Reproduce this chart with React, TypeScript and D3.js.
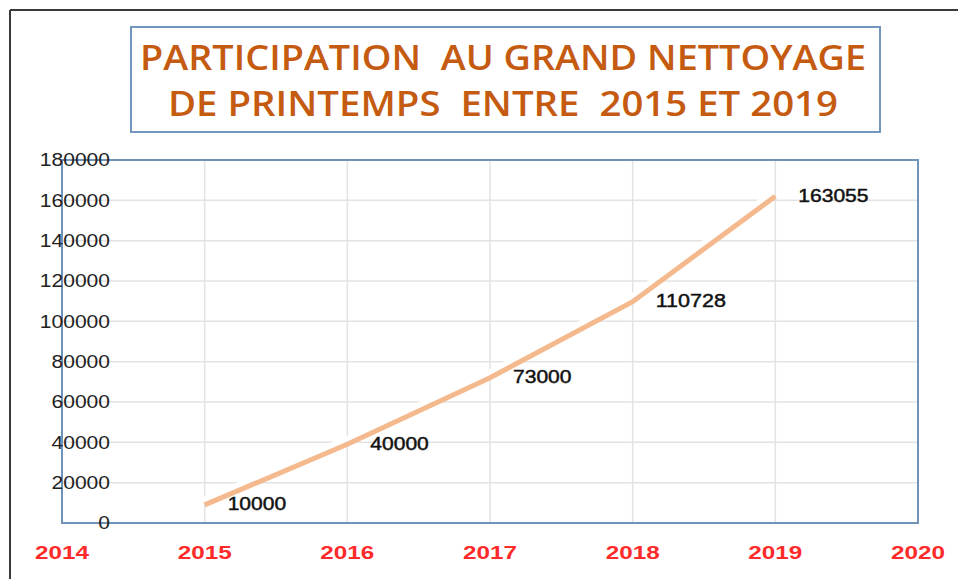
import React from "react";
import * as d3 from "d3";

const years = [2015, 2016, 2017, 2018, 2019];
const participants = [10000, 40000, 73000, 110728, 163055];
const xTickYears = [2014, 2015, 2016, 2017, 2018, 2019, 2020];
const yTicks = [0, 20000, 40000, 60000, 80000, 100000, 120000, 140000, 160000, 180000];
const titleLines = ["PARTICIPATION  AU GRAND NETTOYAGE", "DE PRINTEMPS  ENTRE  2015 ET 2019"];

export default function App() {
  const W = 958, H = 579;
  const left = 62, right = 918, top = 160, bottom = 523;
  const x = d3.scaleLinear().domain([2014, 2020]).range([left, right]);
  const y = d3.scaleLinear().domain([0, 180000]).range([bottom, top]);
  const pts: [number, number][] = years.map((yr, i) => [x(yr), y(participants[i])]);
  const line = d3.line<[number, number]>().x(d => d[0]).y(d => d[1]);
  const font = "'Liberation Sans', Arial, sans-serif";
  const titleFont = "'Open Sans', 'Liberation Sans', sans-serif";
  const digitW = (s: string) => s.length * 11.7;

  return (
    <svg width={W} height={H} style={{ position: "absolute", left: 0, top: 0, background: "#fff" }}>
      {/* outer frame */}
      <line x1={10} y1={10} x2={W} y2={10} stroke="#3a3a3a" strokeWidth={2} />
      <line x1={10} y1={10} x2={10} y2={H} stroke="#3a3a3a" strokeWidth={2} />

      {/* title box */}
      <rect x={131} y={27} width={749} height={105} fill="#fff" stroke="#7396bf" strokeWidth={2} />
      <text x={503} y={70} textAnchor="middle" fontFamily={titleFont} fontWeight={600} fontSize={35}
        fill="#c55a11" textLength={726} lengthAdjust="spacingAndGlyphs" style={{ whiteSpace: "pre" }}>{titleLines[0]}</text>
      <text x={503} y={116} textAnchor="middle" fontFamily={titleFont} fontWeight={600} fontSize={35}
        fill="#c55a11" textLength={670} lengthAdjust="spacingAndGlyphs" style={{ whiteSpace: "pre" }}>{titleLines[1]}</text>

      {/* gridlines */}
      {yTicks.map(t => (
        <line key={"h" + t} x1={left} x2={right} y1={y(t)} y2={y(t)} stroke="#e3e3e3" strokeWidth={1.5} />
      ))}
      {xTickYears.map(t => (
        <line key={"v" + t} x1={x(t)} x2={x(t)} y1={top} y2={bottom} stroke="#e3e3e3" strokeWidth={1.5} />
      ))}

      {/* plot border */}
      <rect x={left} y={top} width={right - left} height={bottom - top} fill="none" stroke="#6f93ba" strokeWidth={2} />

      {/* series line with white shadow */}
      <path d={line(pts.map(p => [p[0] - 2, p[1] - 3]) as [number, number][]) || ""} fill="none" stroke="#ffffff" strokeWidth={5} />
      <path d={line(pts.map(p => [p[0], p[1] + 2]) as [number, number][]) || ""} fill="none" stroke="#f5b98e" strokeWidth={5} strokeLinecap="butt" />

      {/* y tick labels */}
      {yTicks.map(t => (
        <text key={"yl" + t} x={110} y={y(t)} dy="0.36em" textAnchor="end" fontFamily={font} fontSize={18}
          fill="#222" textLength={digitW(String(t))} lengthAdjust="spacingAndGlyphs">{t}</text>
      ))}

      {/* x tick labels */}
      {xTickYears.map(t => (
        <text key={"xl" + t} x={x(t)} y={559} textAnchor="middle" fontFamily={font} fontWeight="bold" fontSize={19}
          fill="#ff2a2a" textLength={54} lengthAdjust="spacingAndGlyphs">{t}</text>
      ))}

      {/* data labels */}
      {pts.map((p, i) => (
        <text key={"dl" + i} x={p[0] + 23} y={p[1] + 1} dy="0.36em" fontFamily={font} fontSize={18}
          fill="#111" stroke="#111" strokeWidth={0.45}
          textLength={digitW(String(participants[i]))} lengthAdjust="spacingAndGlyphs">{participants[i]}</text>
      ))}
    </svg>
  );
}
